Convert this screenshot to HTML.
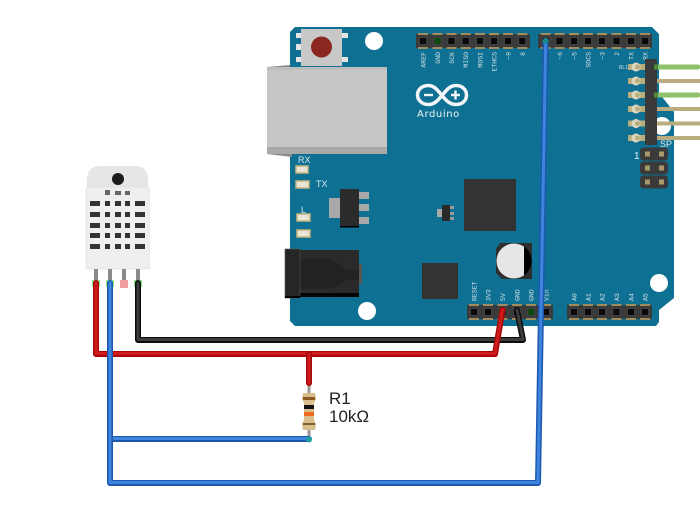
<!DOCTYPE html>
<html><head><meta charset="utf-8"><style>html,body{margin:0;padding:0;background:#fff}svg{display:block}text{font-family:"Liberation Sans",sans-serif}.l{font-family:"Liberation Mono",monospace;font-size:6.5px;fill:#cfe0e8}</style></head><body>
<svg width="700" height="515" viewBox="0 0 700 515" xmlns="http://www.w3.org/2000/svg">
<defs>
<g id="p"><rect x="-5" y="-8" width="10" height="2" fill="#a08c5c"/><rect x="-5" y="6" width="10" height="2" fill="#a08c5c"/><rect x="-3.5" y="-3.5" width="7" height="7" fill="#0a0a0a" stroke="#555" stroke-width=".6"/></g>
<g id="d"><rect x="0" y="-3" width="17" height="6" fill="#b9ad7f"/><circle cx="8" cy="0" r="4.500" fill="#dcd7bf"/><circle cx="9.500" cy="0" r="2.500" fill="#b9ad7f"/></g>
<g id="i"><rect x="-14" y="-6.500" width="28" height="13" rx="3.500" fill="#3a3a3a"/><rect x="-9" y="-2.500" width="5" height="5" fill="#a8996b"/><rect x="5" y="-2.500" width="5" height="5" fill="#a8996b"/></g>
</defs>
<path d="M295 27H652L659 34V93L674 112V298L659 310V322L656 326H295L290 321V32Z" fill="#0e7092"/>
<circle cx="374" cy="41" r="9" fill="#fff"/><circle cx="367" cy="311" r="9" fill="#fff"/><circle cx="659" cy="283" r="9" fill="#fff"/><circle cx="662" cy="126" r="9" fill="#fff"/>
<g fill="#e4e4e4"><rect x="296" y="33" width="6" height="5"/><rect x="296" y="44" width="6" height="6"/><rect x="296" y="57" width="6" height="5"/><rect x="341" y="33" width="7" height="5"/><rect x="341" y="57" width="7" height="5"/></g>
<rect x="301" y="29" width="41" height="37" fill="#c8c8c8"/><circle cx="321.500" cy="47" r="10.500" fill="#8a2820"/>
<rect x="267" y="67" width="120" height="87" fill="#c6c6c6"/><rect x="267" y="67" width="120" height="3" fill="#bcbcbc"/><rect x="267" y="147" width="120" height="7" fill="#a9a9a9"/>
<path d="M267 67L290 65V67ZM267 154L292 157V154Z" fill="#8a8a8a"/>
<!-- headers -->
<rect x="416" y="34" width="114" height="14" fill="#3b3b3b"/><rect x="538" y="34" width="114" height="14" fill="#3b3b3b"/>
<rect x="467" y="305" width="86" height="14" fill="#3b3b3b"/><rect x="567" y="305" width="85" height="14" fill="#3b3b3b"/>
<g>
<use href="#p" x="423" y="41"/><use href="#p" x="437.500" y="41"/><use href="#p" x="451.500" y="41"/><use href="#p" x="465.700" y="41"/><use href="#p" x="480" y="41"/><use href="#p" x="494" y="41"/><use href="#p" x="508" y="41"/><use href="#p" x="522.300" y="41"/>
<use href="#p" x="545.700" y="41"/><use href="#p" x="559.500" y="41"/><use href="#p" x="574" y="41"/><use href="#p" x="588" y="41"/><use href="#p" x="602" y="41"/><use href="#p" x="616.500" y="41"/><use href="#p" x="631" y="41"/><use href="#p" x="645" y="41"/>
<use href="#p" x="474" y="312"/><use href="#p" x="488" y="312"/><use href="#p" x="502.500" y="312"/><use href="#p" x="517" y="312"/><use href="#p" x="531" y="312"/><use href="#p" x="546" y="312"/>
<use href="#p" x="574" y="312"/><use href="#p" x="588" y="312"/><use href="#p" x="602" y="312"/><use href="#p" x="616.500" y="312"/><use href="#p" x="631" y="312"/><use href="#p" x="645" y="312"/>
</g>
<rect x="434.500" y="38" width="6" height="6" fill="#0c4a12"/><rect x="528" y="309" width="6" height="6" fill="#0c4a12"/>
<!-- top labels -->
<g class="l" text-anchor="end">
<text class="l" transform="translate(425.500 52) rotate(-90)">AREF</text><text class="l" transform="translate(440 52) rotate(-90)">GND</text><text class="l" transform="translate(454 52) rotate(-90)">SCK</text><text class="l" transform="translate(468 52) rotate(-90)">MISO</text><text class="l" transform="translate(482.500 52) rotate(-90)">MOSI</text><text class="l" transform="translate(496.500 52) rotate(-90)">ETHCS</text><text class="l" transform="translate(510.500 52) rotate(-90)">~9</text><text class="l" transform="translate(525 52) rotate(-90)">8</text>
<text class="l" transform="translate(562 52) rotate(-90)">~6</text><text class="l" transform="translate(576.500 52) rotate(-90)">~5</text><text class="l" transform="translate(590.500 52) rotate(-90)">SDCS</text><text class="l" transform="translate(604.500 52) rotate(-90)">~3</text><text class="l" transform="translate(619 52) rotate(-90)">2</text><text class="l" transform="translate(633.500 52) rotate(-90)">TX</text><text class="l" transform="translate(647.500 52) rotate(-90)">RX</text>
</g>
<g class="l">
<text class="l" transform="translate(476.500 301) rotate(-90)">RESET</text><text class="l" transform="translate(490.500 301) rotate(-90)">3V3</text><text class="l" transform="translate(505 301) rotate(-90)">5V</text><text class="l" transform="translate(519.500 301) rotate(-90)">GND</text><text class="l" transform="translate(533.500 301) rotate(-90)">GND</text><text class="l" transform="translate(548.500 301) rotate(-90)">Vin</text>
<text class="l" transform="translate(576.500 301) rotate(-90)">A0</text><text class="l" transform="translate(590.500 301) rotate(-90)">A1</text><text class="l" transform="translate(604.500 301) rotate(-90)">A2</text><text class="l" transform="translate(619 301) rotate(-90)">A3</text><text class="l" transform="translate(633.500 301) rotate(-90)">A4</text><text class="l" transform="translate(647.500 301) rotate(-90)">A5</text>
</g>
<!-- logo -->
<g fill="none" stroke="#f2f6f8" stroke-width="3.500"><path d="M428.500 85.500C434 85.500 437.500 90 442 95.500C446.500 101 450 104.500 456 104.500C463 104.500 466.500 100 466.500 95C466.500 89.500 462 85.500 456 85.500C450 85.500 446.500 90 442 95.500C437.500 101 434 104.500 428.500 104.500C422 104.500 417.500 100 417.500 95C417.500 89.500 422 85.500 428.500 85.500Z"/></g>
<rect x="424" y="93.800" width="9" height="2.400" fill="#f2f6f8"/><rect x="451" y="93.800" width="9" height="2.400" fill="#f2f6f8"/><rect x="454.300" y="90.500" width="2.400" height="9" fill="#f2f6f8"/>
<text x="417" y="117" font-size="10" letter-spacing=".6" style="font-family:'DejaVu Sans',sans-serif" fill="#eef4f6">Arduino</text>
<!-- LEDs -->
<g fill="#e8e6d8" stroke="#c9b27c" stroke-width="1.500"><rect x="296" y="166" width="12" height="7"/><rect x="296" y="181" width="13" height="7"/><rect x="297" y="214" width="13" height="7"/><rect x="297" y="230" width="13" height="7"/></g>
<g fill="#d6e6ec" font-size="9"><text x="298" y="163">RX</text><text x="316" y="187">TX</text><text x="301" y="213">L</text></g>
<!-- regulator -->
<rect x="329" y="198" width="11" height="20" fill="#a9a9a9"/><g fill="#a9a9a9"><rect x="359" y="192" width="10" height="7"/><rect x="359" y="204" width="10" height="7"/><rect x="359" y="217" width="10" height="7"/></g>
<rect x="340" y="189" width="19" height="38" fill="#2b2b2b"/><rect x="340" y="226" width="19" height="1.500" fill="#000"/>
<rect x="437" y="209" width="5" height="8" fill="#a9a9a9"/><g fill="#999"><rect x="450" y="206" width="4" height="3"/><rect x="450" y="212" width="4" height="3"/><rect x="450" y="217" width="4" height="3"/></g><rect x="442" y="205" width="8" height="16" fill="#2a2a2a"/>
<!-- jack -->
<rect x="359" y="264" width="3" height="20" fill="#555"/><rect x="300" y="250" width="59" height="47" fill="#2a2a2a"/><path d="M300 259H328Q340 262 345 270H359V280H345Q340 287 328 289H300Z" fill="#222"/><rect x="300" y="293" width="59" height="4" fill="#050505"/><rect x="285" y="249" width="15" height="49" fill="#262626" stroke="#555" stroke-width=".6"/><rect x="285" y="296" width="15" height="2" fill="#000"/>
<!-- chips -->
<rect x="464" y="179" width="52" height="52" fill="#333"/><rect x="422" y="263" width="36" height="36" fill="#333"/>
<!-- cap -->
<path d="M500 243H532V279H502L496 273V249Z" fill="#2e2e2e"/><circle cx="514" cy="261" r="17.500" fill="#e6e6e6"/><path d="M524 246.500A17.500 17.500 0 0 1 524 275.500Z" fill="#000"/>
<!-- right header -->
<use href="#d" x="628" y="67"/><use href="#d" x="628" y="81"/><use href="#d" x="628" y="95"/><use href="#d" x="628" y="109"/><use href="#d" x="628" y="123.500"/><use href="#d" x="628" y="138"/>
<rect x="657" y="64.500" width="43" height="5" rx="2" fill="#8fc06a"/><rect x="657" y="79" width="43" height="4" fill="#b9ad7f"/><rect x="657" y="92.500" width="43" height="5" rx="2" fill="#8fc06a"/><rect x="657" y="107" width="43" height="4" fill="#b9ad7f"/><rect x="657" y="121.500" width="43" height="4" fill="#b9ad7f"/><rect x="657" y="136" width="43" height="4" fill="#b9ad7f"/>
<rect x="645" y="59" width="12" height="86" fill="#3a3a3a"/><rect x="654" y="64.500" width="4" height="5" fill="#4f8a3a"/><rect x="654" y="92.500" width="4" height="5" fill="#4f8a3a"/>
<text x="619" y="69" font-size="5" fill="#cfe0e8">BL1</text>
<text x="660" y="147" font-size="9" fill="#e8f0f3">SP</text><text x="634" y="159" font-size="10" fill="#e8f0f3">1</text>
<use href="#i" x="654" y="154"/><use href="#i" x="654" y="168"/><use href="#i" x="654" y="182"/>
<!-- DHT -->
<path d="M87 187V180Q87 166 101 166H134Q148 166 148 180V187Z" fill="#e6e6e6"/><circle cx="118" cy="179" r="6" fill="#1c1c1c"/>
<rect x="86" y="187" width="63.500" height="82" fill="#efefef" stroke="#ddd" stroke-width=".5"/>
<g fill="#333"><rect x="105" y="190" width="5" height="5" fill="#666"/><rect x="115" y="191" width="6" height="4" fill="#666"/><rect x="125" y="191" width="5" height="4" fill="#666"/>
<rect x="90" y="201" width="10" height="5"/><rect x="105" y="201" width="5" height="5"/><rect x="115" y="201" width="6" height="5"/><rect x="125" y="201" width="5" height="5"/><rect x="135" y="201" width="10" height="5"/>
<rect x="90" y="212" width="10" height="5"/><rect x="105" y="212" width="5" height="5"/><rect x="115" y="212" width="6" height="5"/><rect x="125" y="212" width="5" height="5"/><rect x="135" y="212" width="10" height="5"/>
<rect x="90" y="223" width="10" height="5"/><rect x="105" y="223" width="5" height="5"/><rect x="115" y="223" width="6" height="5"/><rect x="125" y="223" width="5" height="5"/><rect x="135" y="223" width="10" height="5"/>
<rect x="90" y="233" width="10" height="5"/><rect x="105" y="233" width="5" height="5"/><rect x="115" y="233" width="6" height="5"/><rect x="125" y="233" width="5" height="5"/><rect x="135" y="233" width="10" height="5"/>
<rect x="90" y="244" width="10" height="5"/><rect x="105" y="244" width="5" height="5"/><rect x="115" y="244" width="6" height="5"/><rect x="125" y="244" width="5" height="5"/><rect x="135" y="244" width="10" height="5"/></g>
<g fill="#8a8a8a"><rect x="94" y="269" width="4" height="12"/><rect x="108" y="269" width="4" height="12"/><rect x="122" y="269" width="4" height="12"/><rect x="136" y="269" width="4" height="12"/></g>
<rect x="120" y="280" width="8" height="8" fill="#f0a0a0"/>
<g fill="#8fe88f"><rect x="92" y="280" width="8" height="7"/><rect x="106" y="280" width="8" height="7"/><rect x="134" y="280" width="8" height="7"/></g>
<!-- resistor -->
<rect x="307.500" y="383" width="3" height="56" fill="#999"/>
<path d="M303 393H315L316 399L314 403V420L316 424L315 430H303L302 424L304 420V403L302 399Z" fill="#d8bf8c"/>
<rect x="303" y="397" width="12" height="3" fill="#8a5a20"/><rect x="304" y="405" width="10" height="4" fill="#111"/><rect x="304" y="412" width="10" height="4" fill="#f06a20"/><rect x="303" y="423" width="12" height="2" fill="#7a6030"/>
<!-- wires -->
<g fill="none" stroke-linejoin="round" stroke-linecap="round">
<path d="M138 283V340H523L517 310" stroke="#0c0c0c" stroke-width="6"/><path d="M138 283V339.500H523L517 310" stroke="#3c3c3c" stroke-width="3"/>
<path d="M96 283V354H495L502.500 310" stroke="#a80808" stroke-width="6"/><path d="M96 283V353.500H495L502.500 310" stroke="#cc1c1c" stroke-width="3"/>
<path d="M309 354V383" stroke="#a80808" stroke-width="6"/><path d="M309 354V383" stroke="#cc1c1c" stroke-width="3"/>
<path d="M110 439H309" stroke="#1c58b0" stroke-width="6"/><path d="M110 438.500H309" stroke="#3d84dc" stroke-width="3"/>
<path d="M110 283V483H538L545.700 41" stroke="#1c58b0" stroke-width="6"/><path d="M110 283V482.500H538L545.700 41" stroke="#3d84dc" stroke-width="3"/>
</g>
<circle cx="309" cy="439.500" r="3" fill="#1fa0a0"/><circle cx="545.700" cy="41" r="3" fill="#1a8a90"/>
<text x="329" y="404" font-size="17" fill="#222">R1</text><text x="329" y="422" font-size="17" fill="#222">10kΩ</text>
</svg>
</body></html>
